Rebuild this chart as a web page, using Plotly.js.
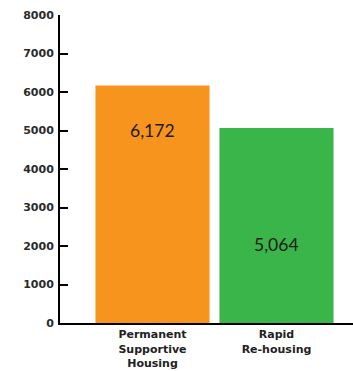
<!DOCTYPE html>
<html>
<head>
<meta charset="utf-8">
<script src="https://cdn.plot.ly/plotly-3.0.1.min.js"></script>
<style>html,body{margin:0;padding:0;background:#fff;}#chart{width:353px;height:371px;}</style>
</head>
<body>
<div id="chart"></div>
<script>
const categories = ["Permanent<br>Supportive<br>Housing", "Rapid<br>Re-housing"];
const values = [6172, 5064];
const valueLabels = ["6,172", "5,064"];
const barColors = ["#F7941D", "#3AB54A"];
const yTickVals = [0, 1000, 2000, 3000, 4000, 5000, 6000, 7000, 8000];
const yTickText = ["0", "1000", "2000", "3000", "4000", "5000", "6000", "7000", "8000"];
// label anchor heights (data units) as placed in the original
const labelY = [4990, 2030];

const trace = {
  type: "bar",
  x: [0, 1],
  y: values,
  marker: {color: barColors, line: {width: 0}},
  hoverinfo: "none"
};

const annotations = values.map((v, i) => ({
  x: i, y: labelY[i], xref: "x", yref: "y",
  text: valueLabels[i], showarrow: false,
  font: {family: "Lato", size: 17.5, color: "#1a1a1a"}
}));

const layout = {
  width: 353, height: 371,
  margin: {l: 60, r: 0, t: 15, b: 48},
  paper_bgcolor: "#fff", plot_bgcolor: "#fff",
  bargap: 0.08,
  showlegend: false,
  xaxis: {
    range: [-0.746, 1.617],
    tickvals: [0, 1], ticktext: categories,
    showgrid: false, zeroline: false,
    showline: true, linecolor: "#000", linewidth: 2,
    ticks: "",
    tickfont: {family: "DejaVu Sans", size: 11, color: "#222", weight: "bold"}
  },
  yaxis: {
    range: [0, 8000],
    tickvals: yTickVals, ticktext: yTickText,
    showgrid: false, zeroline: false,
    showline: true, linecolor: "#000", linewidth: 2,
    ticks: "inside", ticklen: 8, tickwidth: 2, tickcolor: "#000",
    ticklabelstandoff: 2,
    tickfont: {family: "DejaVu Sans", size: 11, color: "#2a2a2a", weight: "bold"}
  },
  annotations: annotations
};

Plotly.newPlot("chart", [trace], layout, {displayModeBar: false, staticPlot: true});
</script>
</body>
</html>
